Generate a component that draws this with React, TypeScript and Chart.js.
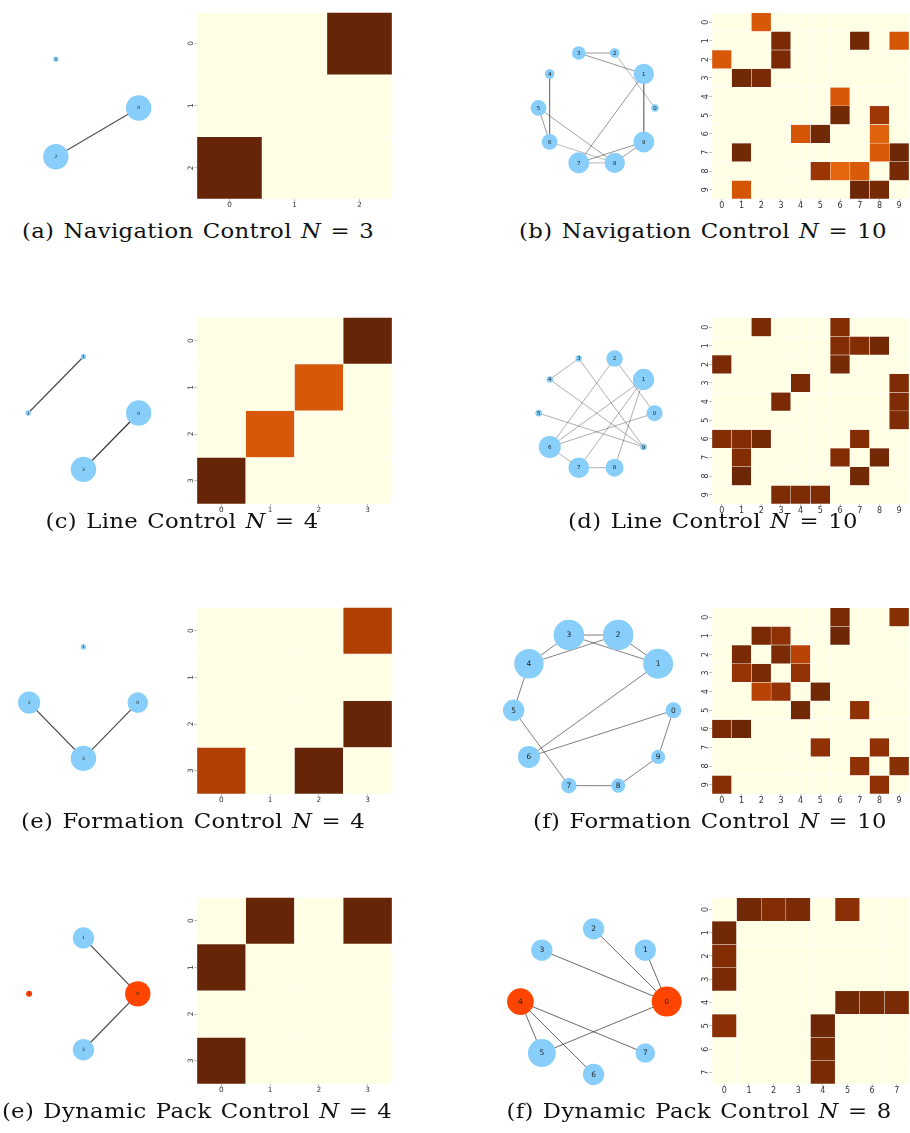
import React, { useEffect, useRef } from 'react';
import { Chart, registerables } from 'chart.js';

Chart.register(...registerables);

// ---- circular layout positions (unit circle, node i at angle 2*pi*i/N) ----
const circle3X = [1, -0.5, -0.5];
const circle3Y = [0, 0.866, -0.866];
const circle4X = [1, 0, -1, 0];
const circle4Y = [0, 1, 0, -1];
const circle8X = [1, 0.707, 0, -0.707, -1, -0.707, 0, 0.707];
const circle8Y = [0, 0.707, 1, 0.707, 0, -0.707, -1, -0.707];
const circle10X = [1, 0.809, 0.309, -0.309, -0.809, -1, -0.809, -0.309, 0.309, 0.809];
const circle10Y = [0, 0.588, 0.951, 0.951, 0.588, 0, -0.588, -0.951, -0.951, -0.588];

// ---- agent tick labels ----
const ticks3 = ['0', '1', '2'];
const ticks4 = ['0', '1', '2', '3'];
const ticks8 = ['0', '1', '2', '3', '4', '5', '6', '7'];
const ticks10 = ['0', '1', '2', '3', '4', '5', '6', '7', '8', '9'];

// ---- attention / adjacency weights (row = agent, column = neighbour) ----
const navAdj3 = [
  [0, 0, 1],
  [0, 0, 0],
  [1, 0, 0],
];
const navAdj10 = [
  [0, 0, 0.71, 0, 0, 0, 0, 0, 0, 0],
  [0, 0, 0, 0.95, 0, 0, 0, 0.97, 0, 0.72],
  [0.71, 0, 0, 0.95, 0, 0, 0, 0, 0, 0],
  [0, 0.97, 0.95, 0, 0, 0, 0, 0, 0, 0],
  [0, 0, 0, 0, 0, 0, 0.71, 0, 0, 0],
  [0, 0, 0, 0, 0, 0, 0.97, 0, 0.86, 0],
  [0, 0, 0, 0, 0.72, 0.97, 0, 0, 0.67, 0],
  [0, 0.97, 0, 0, 0, 0, 0, 0, 0.7, 0.98],
  [0, 0, 0, 0, 0, 0.87, 0.66, 0.7, 0, 0.96],
  [0, 0.72, 0, 0, 0, 0, 0, 0.98, 0.96, 0],
];
const lineAdj4 = [
  [0, 0, 0, 1],
  [0, 0, 0.71, 0],
  [0, 0.71, 0, 0],
  [1, 0, 0, 0],
];
const lineAdj10 = [
  [0, 0, 0.95, 0, 0, 0, 0.93, 0, 0, 0],
  [0, 0, 0, 0, 0, 0, 0.93, 0.93, 0.97, 0],
  [0.95, 0, 0, 0, 0, 0, 0.96, 0, 0, 0],
  [0, 0, 0, 0, 0.95, 0, 0, 0, 0, 0.94],
  [0, 0, 0, 0.95, 0, 0, 0, 0, 0, 0.94],
  [0, 0, 0, 0, 0, 0, 0, 0, 0, 0.94],
  [0.93, 0.93, 0.96, 0, 0, 0, 0, 0.93, 0, 0],
  [0, 0.93, 0, 0, 0, 0, 0.93, 0, 0.97, 0],
  [0, 0.98, 0, 0, 0, 0, 0, 0.97, 0, 0],
  [0, 0, 0, 0.94, 0.94, 0.94, 0, 0, 0, 0],
];
const formAdj4 = [
  [0, 0, 0, 0.82],
  [0, 0, 0, 0],
  [0, 0, 0, 1],
  [0.82, 0, 1, 0],
];
const formAdj10 = [
  [0, 0, 0, 0, 0, 0, 0.95, 0, 0, 0.92],
  [0, 0, 0.95, 0.9, 0, 0, 0.98, 0, 0, 0],
  [0, 0.95, 0, 0.95, 0.8, 0, 0, 0, 0, 0],
  [0, 0.88, 0.95, 0, 0.89, 0, 0, 0, 0, 0],
  [0, 0, 0.8, 0.89, 0, 0.97, 0, 0, 0, 0],
  [0, 0, 0, 0, 0.97, 0, 0, 0.9, 0, 0],
  [0.95, 0.98, 0, 0, 0, 0, 0, 0, 0, 0],
  [0, 0, 0, 0, 0, 0.9, 0, 0, 0.9, 0],
  [0, 0, 0, 0, 0, 0, 0, 0.9, 0, 0.92],
  [0.92, 0, 0, 0, 0, 0, 0, 0, 0.9, 0],
];
const packAdj4 = [
  [0, 1, 0, 1],
  [1, 0, 0, 0],
  [0, 0, 0, 0],
  [1, 0, 0, 0],
];
const packAdj8 = [
  [0, 0.97, 0.93, 0.95, 0, 0.91, 0, 0],
  [0.97, 0, 0, 0, 0, 0, 0, 0],
  [0.93, 0, 0, 0, 0, 0, 0, 0],
  [0.95, 0, 0, 0, 0, 0, 0, 0],
  [0, 0, 0, 0, 0, 0.97, 0.96, 0.95],
  [0.91, 0, 0, 0, 0.98, 0, 0, 0],
  [0, 0, 0, 0, 0.96, 0, 0, 0],
  [0, 0, 0, 0, 0.95, 0, 0, 0],
];

// ---- relative node importance (scaled to node size) ----
const navNode3 = [1, 0.21, 1];
const navNode10 = [0.36, 0.97, 0.46, 0.65, 0.46, 0.75, 0.75, 1, 0.97, 1];
const lineNode4 = [1, 0.21, 0.21, 1];
const lineNode10 = [0.73, 0.97, 0.75, 0.3, 0.3, 0.3, 1, 0.94, 0.82, 0.3];
const formNode4 = [0.81, 0.21, 0.87, 1];
const formNode10 = [0.52, 0.98, 1, 1, 0.96, 0.7, 0.72, 0.5, 0.46, 0.46];
const packNode4 = [1, 0.84, 0.24, 0.84];
const packNode8 = [1, 0.71, 0.71, 0.71, 0.89, 0.93, 0.71, 0.65];

// ---- pack leaders (1 = leader) ----
const noLeaders3 = [0, 0, 0];
const noLeaders4 = [0, 0, 0, 0];
const noLeaders10 = [0, 0, 0, 0, 0, 0, 0, 0, 0, 0];
const packLeaders4 = [1, 0, 1, 0];
const packLeaders8 = [1, 0, 0, 0, 1, 0, 0, 0];

// ---- captions ----
const captionTags = ['(a)', '(b)', '(c)', '(d)', '(e)', '(f)', '(e)', '(f)'];
const captionTitles = [
  'Navigation Control', 'Navigation Control',
  'Line Control', 'Line Control',
  'Formation Control', 'Formation Control',
  'Dynamic Pack Control', 'Dynamic Pack Control',
];
const captionCounts = ['3', '10', '4', '10', '4', '10', '4', '8'];

const SKY = '#87cefa';
const LEADER = '#ff4500';

const YLORBR = ['#ffffe5', '#fff7bc', '#fee391', '#fec44f', '#fe9929', '#ec7014', '#cc4c02', '#993404', '#662506'];

function hexRgb(h: string) {
  return [parseInt(h.slice(1, 3), 16), parseInt(h.slice(3, 5), 16), parseInt(h.slice(5, 7), 16)];
}

function ylOrBr(v: number) {
  const t = Math.max(0, Math.min(1, v)) * (YLORBR.length - 1);
  const i = Math.min(YLORBR.length - 2, Math.floor(t));
  const f = t - i;
  const a = hexRgb(YLORBR[i]);
  const b = hexRgb(YLORBR[i + 1]);
  const c = a.map((x, k) => Math.round(x + (b[k] - x) * f));
  return `rgb(${c[0]},${c[1]},${c[2]})`;
}

type GraphStyle = {
  left: number; top: number; width: number; height: number;
  cx: number; cy: number; R: number; maxR: number; labelSize: number;
  alpha: [number, number]; lineWidth: number;
};
type HeatStyle = { left: number; top: number; width: number; height: number; font: number };
type Panel = {
  labels: string[]; adj: number[][]; xs: number[]; ys: number[];
  nodes: number[]; leaders: number[];
  graph: GraphStyle; heat: HeatStyle; cap: { cx: number; base: number };
};

const panels: Panel[] = [
  {
    labels: ticks3, adj: navAdj3, xs: circle3X, ys: circle3Y, nodes: navNode3, leaders: noLeaders3,
    graph: { left: 0, top: 0, width: 185, height: 215, cx: 82, cy: 108, R: 64, maxR: 12.7, labelSize: 4.5, alpha: [0.8, 0.8], lineWidth: 1.2 },
    heat: { left: 197, top: 8, width: 195, height: 191, font: 7.3 },
    cap: { cx: 198, base: 238 },
  },
  {
    labels: ticks10, adj: navAdj10, xs: circle10X, ys: circle10Y, nodes: navNode10, leaders: noLeaders10,
    graph: { left: 468, top: 0, width: 232, height: 215, cx: 598, cy: 108, R: 64, maxR: 10.5, labelSize: 5.5, alpha: [0.3, 0.5], lineWidth: 1 },
    heat: { left: 712, top: 8, width: 197, height: 191, font: 8 },
    cap: { cx: 703, base: 238 },
  },
  {
    labels: ticks4, adj: lineAdj4, xs: circle4X, ys: circle4Y, nodes: lineNode4, leaders: noLeaders4,
    graph: { left: 0, top: 300, width: 185, height: 212, cx: 82, cy: 414, R: 64, maxR: 12.7, labelSize: 4.5, alpha: [0.78, 0.95], lineWidth: 1.3 },
    heat: { left: 197, top: 313, width: 195, height: 191, font: 7.3 },
    cap: { cx: 182, base: 528 },
  },
  {
    labels: ticks10, adj: lineAdj10, xs: circle10X, ys: circle10Y, nodes: lineNode10, leaders: noLeaders10,
    graph: { left: 468, top: 300, width: 232, height: 212, cx: 598, cy: 414, R: 64, maxR: 11, labelSize: 5.5, alpha: [0.4, 0.42], lineWidth: 0.9 },
    heat: { left: 712, top: 313, width: 197, height: 191, font: 8 },
    cap: { cx: 713, base: 528 },
  },
  {
    labels: ticks4, adj: formAdj4, xs: circle4X, ys: circle4Y, nodes: formNode4, leaders: noLeaders4,
    graph: { left: 0, top: 590, width: 185, height: 220, cx: 82, cy: 703, R: 63, maxR: 12.7, labelSize: 4.5, alpha: [0.8, 0.88], lineWidth: 1.2 },
    heat: { left: 197, top: 603, width: 195, height: 191, font: 7.3 },
    cap: { cx: 193, base: 828 },
  },
  {
    labels: ticks10, adj: formAdj10, xs: circle10X, ys: circle10Y, nodes: formNode10, leaders: noLeaders10,
    graph: { left: 468, top: 590, width: 232, height: 220, cx: 595, cy: 712, R: 92, maxR: 15.3, labelSize: 7.5, alpha: [0.55, 0.6], lineWidth: 1 },
    heat: { left: 712, top: 603, width: 197, height: 191, font: 8 },
    cap: { cx: 710, base: 828 },
  },
  {
    labels: ticks4, adj: packAdj4, xs: circle4X, ys: circle4Y, nodes: packNode4, leaders: packLeaders4,
    graph: { left: 0, top: 880, width: 185, height: 225, cx: 82, cy: 994, R: 63, maxR: 12.7, labelSize: 4.5, alpha: [0.85, 0.85], lineWidth: 1.2 },
    heat: { left: 197, top: 893, width: 195, height: 191, font: 7.3 },
    cap: { cx: 197, base: 1118 },
  },
  {
    labels: ticks8, adj: packAdj8, xs: circle8X, ys: circle8Y, nodes: packNode8, leaders: packLeaders8,
    graph: { left: 468, top: 880, width: 232, height: 225, cx: 595, cy: 1003, R: 84, maxR: 15, labelSize: 7.5, alpha: [0.65, 0.7], lineWidth: 1 },
    heat: { left: 712, top: 893, width: 197, height: 191, font: 8 },
    cap: { cx: 699, base: 1118 },
  },
];

// draws each agent's index at the centre of its node
const nodeLabelPlugin = {
  id: 'nodeLabels',
  afterDatasetsDraw(chart: any, _args: any, opts: any) {
    const meta = chart.getDatasetMeta(0);
    const ctx = chart.ctx;
    ctx.save();
    ctx.font = `${opts.size}px "DejaVu Sans"`;
    ctx.fillStyle = '#222';
    ctx.textAlign = 'center';
    ctx.textBaseline = 'middle';
    meta.data.forEach((el: any, i: number) => {
      ctx.fillText(opts.labels[i], el.x, el.y + 0.3);
    });
    ctx.restore();
  },
};

function GraphChart({ p }: { p: Panel }) {
  const ref = useRef<HTMLCanvasElement>(null);
  const g = p.graph;
  useEffect(() => {
    const n = p.labels.length;
    const edges: any[] = [];
    for (let i = 0; i < n; i++) {
      for (let j = i + 1; j < n; j++) {
        const w = Math.max(p.adj[i][j], p.adj[j][i]);
        if (w <= 0) continue;
        const t = Math.max(0, Math.min(1, (w - 0.65) / 0.35));
        const a = g.alpha[0] + (g.alpha[1] - g.alpha[0]) * t;
        edges.push({
          type: 'line',
          data: [{ x: p.xs[i], y: p.ys[i] }, { x: p.xs[j], y: p.ys[j] }],
          borderColor: `rgba(40,40,40,${a.toFixed(3)})`,
          borderWidth: g.lineWidth,
          pointRadius: 0,
          tension: 0,
          order: 1,
          clip: false,
        });
      }
    }
    const nodes = {
      type: 'bubble',
      data: p.xs.map((x, i) => ({ x, y: p.ys[i], r: g.maxR * p.nodes[i] })),
      backgroundColor: p.leaders.map((l) => (l ? LEADER : SKY)),
      borderWidth: 0,
      order: 0,
      clip: false,
    };
    const chart = new Chart(ref.current as HTMLCanvasElement, {
      type: 'bubble',
      data: { datasets: [nodes, ...edges] as any },
      options: {
        animation: false,
        responsive: false,
        events: [],
        layout: { padding: 0 },
        plugins: {
          legend: { display: false },
          tooltip: { enabled: false },
          nodeLabels: { size: g.labelSize, labels: p.labels },
        } as any,
        scales: {
          x: { type: 'linear', display: false, min: (g.left - g.cx) / g.R, max: (g.left + g.width - g.cx) / g.R },
          y: { type: 'linear', display: false, min: (g.cy - g.top - g.height) / g.R, max: (g.cy - g.top) / g.R },
        },
      },
      plugins: [nodeLabelPlugin],
    });
    return () => chart.destroy();
  }, []);
  return (
    <canvas
      ref={ref}
      width={g.width}
      height={g.height}
      style={{ position: 'absolute', left: g.left, top: g.top, width: g.width, height: g.height }}
    />
  );
}

const AXW = 18;
const AXH = 14;

function HeatmapChart({ p }: { p: Panel }) {
  const ref = useRef<HTMLCanvasElement>(null);
  const h = p.heat;
  const cw = h.width + AXW + 1;
  const ch = h.height + AXH + 1;
  useEffect(() => {
    const labels = p.labels;
    const n = labels.length;
    const datasets = p.adj.map((row, r) => ({
      data: row.map(() => [r - 0.5, r + 0.5]),
      backgroundColor: row.map((v) => ylOrBr(v)),
      borderColor: 'rgba(255,255,255,0.6)',
      borderWidth: 0.5,
      borderSkipped: false,
      grouped: false,
      barPercentage: 1,
      categoryPercentage: 1,
    }));
    const tickFont = { family: 'DejaVu Sans', size: h.font };
    const chart = new Chart(ref.current as HTMLCanvasElement, {
      type: 'bar',
      data: { labels, datasets: datasets as any },
      options: {
        animation: false,
        responsive: false,
        events: [],
        layout: { padding: { top: 1, right: 1, left: 0, bottom: 0 } },
        plugins: { legend: { display: false }, tooltip: { enabled: false } },
        scales: {
          x: {
            offset: true,
            grid: { display: true, drawOnChartArea: false, offset: false, tickLength: 2, color: '#999', lineWidth: 0.6 },
            border: { display: false },
            ticks: { font: tickFont, color: '#333', padding: 0, maxRotation: 0, minRotation: 0, autoSkip: false },
            afterFit: (s: any) => { s.height = AXH; },
          },
          y: {
            type: 'linear',
            min: -0.5,
            max: n - 0.5,
            reverse: true,
            afterBuildTicks: (s: any) => { s.ticks = labels.map((_, i) => ({ value: i })); },
            grid: { display: true, drawOnChartArea: false, tickLength: 3, color: '#999', lineWidth: 0.6 },
            border: { display: false },
            ticks: {
              font: tickFont, color: '#333', padding: 1, minRotation: 90, maxRotation: 90,
              crossAlign: 'center', autoSkip: false,
              callback: (v: any) => labels[v] ?? '',
            },
            afterFit: (s: any) => { s.width = AXW; },
          },
        } as any,
      },
    });
    return () => chart.destroy();
  }, []);
  return (
    <canvas
      ref={ref}
      width={cw}
      height={ch}
      style={{ position: 'absolute', left: h.left - AXW, top: h.top - 1, width: cw, height: ch }}
    />
  );
}

function Caption({ p, i }: { p: Panel; i: number }) {
  return (
    <div
      style={{
        position: 'absolute',
        left: p.cap.cx - 230,
        width: 460,
        top: p.cap.base - 19,
        height: 26,
        lineHeight: '24px',
        textAlign: 'center',
        fontFamily: '"DejaVu Serif", serif',
        fontSize: 20.5,
        letterSpacing: '0.3px',
        wordSpacing: '1.5px',
        color: '#111',
        whiteSpace: 'nowrap',
        transform: 'scaleX(1.11)',
        transformOrigin: '50% 50%',
      }}
    >
      {captionTags[i]} {captionTitles[i]} <i>N</i> = {captionCounts[i]}
    </div>
  );
}

export default function App() {
  return (
    <div style={{ position: 'absolute', left: 0, top: 0, width: 910, height: 1133, background: '#fff', overflow: 'hidden' }}>
      {panels.map((p, i) => (
        <React.Fragment key={i}>
          <GraphChart p={p} />
          <HeatmapChart p={p} />
          <Caption p={p} i={i} />
        </React.Fragment>
      ))}
    </div>
  );
}
